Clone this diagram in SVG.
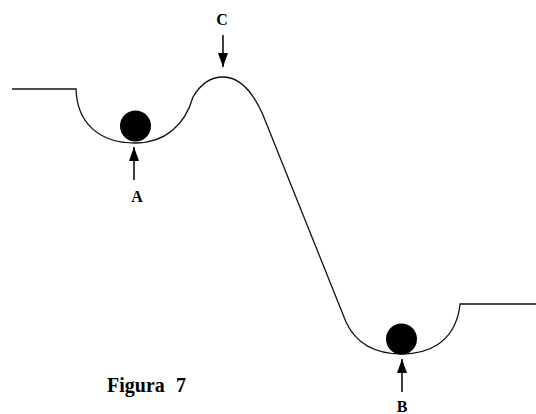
<svg xmlns="http://www.w3.org/2000/svg" width="536" height="414" viewBox="0 0 536 414">
<defs>
<style>
.curve{fill:none;stroke:#111;stroke-width:1.3}
.ball{fill:#000}
.lbl{font-family:"Liberation Serif",serif;font-weight:bold;font-size:16px;fill:#000;text-anchor:middle}
.cap{font-family:"Liberation Serif",serif;font-weight:bold;font-size:20px;fill:#000}
.arr{stroke:#000;stroke-width:1.5;fill:none}
</style>
<marker id="ah" markerUnits="userSpaceOnUse" markerWidth="15" markerHeight="11" refX="14" refY="5" orient="auto">
<path d="M0,0 L14,5 L0,10 z" fill="#000"/>
</marker>
</defs>
<rect width="536" height="414" fill="#fff"/>
<g id="landscape">
<path class="curve" d="M12,89 H76 C77,122 98,143 135,143 C165,143 185,125 193,97 C200,85 210,77 223,77 C238,77 252,90 263,115 L346,322 C358,348 380,354 402,354 C425,354 455,345 460,305 L460,304 H536"/>
</g>
<g id="ballA"><circle class="ball" cx="135.5" cy="126" r="15.5"/></g>
<g id="ballB"><circle class="ball" cx="401.5" cy="339" r="15.5"/></g>
<g id="labelC"><text class="lbl" x="222" y="25">C</text></g>
<g id="labelA"><text class="lbl" x="137" y="202">A</text></g>
<g id="labelB"><text class="lbl" x="402" y="412">B</text></g>
<g id="caption"><text class="cap" x="107" y="392">Figura<tspan x="176">7</tspan></text></g>
<g id="connectors">
<line class="arr" x1="223" y1="35" x2="223" y2="67" marker-end="url(#ah)"/>
<line class="arr" x1="134" y1="180" x2="134" y2="147" marker-end="url(#ah)"/>
<line class="arr" x1="402" y1="392" x2="402" y2="359" marker-end="url(#ah)"/>
</g>
</svg>
